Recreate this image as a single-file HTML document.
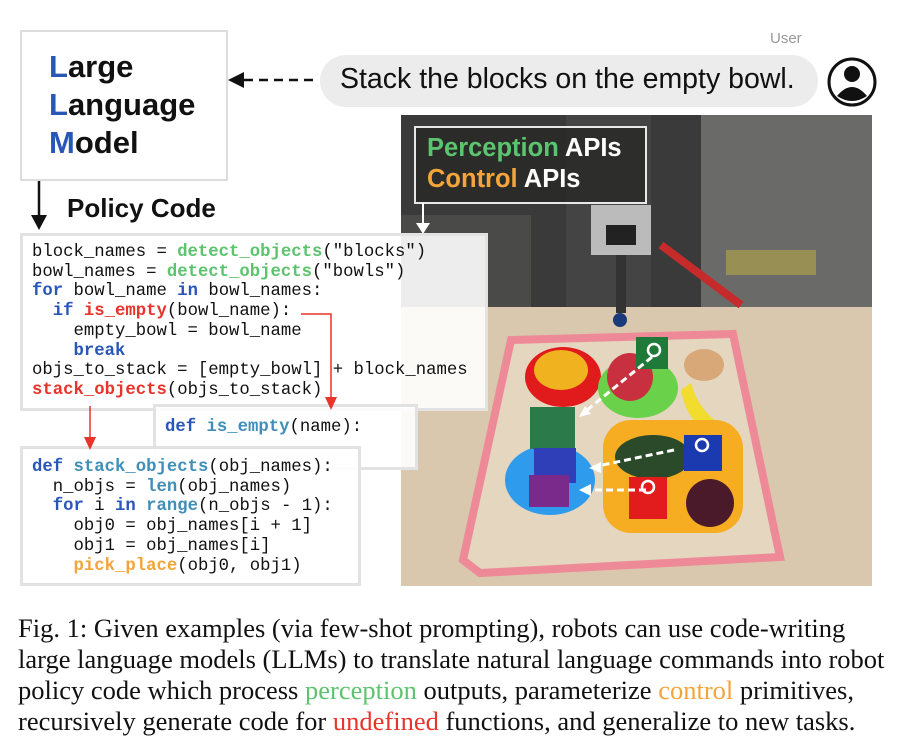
<!DOCTYPE html>
<html><head><meta charset="utf-8"><style>
body{margin:0;width:900px;height:752px;background:#fff;position:relative;overflow:hidden;font-family:"Liberation Sans",sans-serif}
.abs{position:absolute}
.code{font-family:"Liberation Mono",monospace;font-size:17.3px;line-height:19.7px;white-space:pre;color:#111}
.g{color:#5cc46e}.b{color:#2a56b8;font-weight:bold}.r{color:#e8342a;font-weight:bold}.t{color:#3f8fb8;font-weight:bold}.o{color:#f3a43a;font-weight:bold}
.box{position:absolute;background:rgba(255,255,255,0.9);border:3px solid #e2e2e2;box-sizing:border-box}
.cap{font-family:"Liberation Serif",serif;font-size:26.5px;line-height:31px;color:#111;white-space:nowrap}
</style></head><body>

<svg class="abs" style="left:401px;top:115px" width="471" height="471" viewBox="0 0 471 471">
<rect width="471" height="471" fill="#d9c8ae"/>
<rect width="471" height="192" fill="#3a3a3a"/>
<rect x="300" y="0" width="171" height="192" fill="#6a6a68"/>
<rect x="0" y="100" width="130" height="92" fill="#4a4a48"/>
<rect x="165" y="0" width="85" height="192" fill="#444"/>
<rect x="190" y="90" width="60" height="50" fill="#bbb"/>
<rect x="205" y="110" width="30" height="20" fill="#222"/>
<rect x="215" y="140" width="10" height="58" fill="#333"/>
<circle cx="219" cy="205" r="7" fill="#1a3a7a"/>
<path d="M260 130 L340 190" stroke="#c62b2b" stroke-width="8"/>
<rect x="325" y="135" width="90" height="25" fill="#b8a84a" opacity=".6"/>
<path d="M110 225 L332 219 L379 442 L79 458 L62 445 Z" fill="#e4d6bf"/>
<path d="M110 225 L332 219 L379 442 L79 458 L62 445 Z" fill="none" stroke="#ee8a97" stroke-width="8"/>
<ellipse cx="162" cy="262" rx="38" ry="30" fill="#e11b1b"/>
<ellipse cx="160" cy="255" rx="27" ry="20" fill="#f0b21f"/>
<ellipse cx="237" cy="273" rx="40" ry="30" fill="#6ad24a"/>
<ellipse cx="229" cy="262" rx="23" ry="24" fill="#c9303f"/>
<rect x="235" y="222" width="32" height="32" fill="#1f7a3a"/>
<ellipse cx="303" cy="250" rx="20" ry="16" fill="#d8a878"/>
<path d="M290 268 Q300 305 338 318 L333 325 Q288 320 280 275Z" fill="#f2dc2e"/>
<ellipse cx="149" cy="365" rx="45" ry="35" fill="#2e9bec"/>
<rect x="129" y="292" width="45" height="42" fill="#2a7a4a"/>
<rect x="133" y="333" width="42" height="35" fill="#2e3fb8"/>
<rect x="128" y="360" width="40" height="32" fill="#7a2a8a"/>
<rect x="202" y="305" width="140" height="113" rx="28" fill="#f6ad22"/>
<ellipse cx="252" cy="342" rx="38" ry="22" fill="#2a4a2a"/>
<rect x="283" y="320" width="38" height="36" fill="#1c3ab0"/>
<rect x="228" y="362" width="38" height="42" fill="#e21c1c"/>
<circle cx="309" cy="388" r="24" fill="#4a1a2a"/>
<g stroke="#fff" stroke-width="3" stroke-dasharray="7 4" fill="none">
<path d="M251 242 L180 300"/><path d="M273 335 L192 352"/><path d="M245 375 L185 375"/>
</g>
<circle cx="253" cy="235" r="6" fill="none" stroke="#fff" stroke-width="2.5"/>
<circle cx="301" cy="330" r="6" fill="none" stroke="#fff" stroke-width="2.5"/>
<circle cx="247" cy="372" r="6" fill="none" stroke="#fff" stroke-width="2.5"/>
<g fill="#fff"><path d="M178 302 l12 -3 l-6 -8z"/><path d="M188 353 l12 -6 l0 11z"/><path d="M178 375 l12 -6 l0 12z"/></g>
<rect x="14" y="12" width="231" height="76" fill="#2a2a28" opacity=".88" stroke="#fff" stroke-width="2"/>
<line x1="22" y1="88" x2="22" y2="112" stroke="#fff" stroke-width="2"/>
<path d="M15 108 L22 119 L29 108Z" fill="#fff"/>
<text x="26" y="41" font-family="Liberation Sans" font-weight="bold" font-size="25.5" fill="#5cc46e">Perception <tspan fill="#fff">APIs</tspan></text>
<text x="26" y="72" font-family="Liberation Sans" font-weight="bold" font-size="25.5" fill="#f3a43a">Control <tspan fill="#fff">APIs</tspan></text>
</svg>

<div class="abs" style="left:20px;top:30px;width:208px;height:151px;border:2px solid #ddd;box-sizing:border-box"></div>
<div class="abs" style="left:49px;top:48px;font-size:31px;font-weight:bold;line-height:38px;color:#111"><span style="color:#2a56b8">L</span>arge<br><span style="color:#2a56b8">L</span>anguage<br><span style="color:#2a56b8">M</span>odel</div>
<svg class="abs" style="left:0;top:0" width="900" height="600">
<line x1="244" y1="80" x2="315" y2="80" stroke="#111" stroke-width="2.5" stroke-dasharray="9 6"/>
<path d="M228 80 L244 72 L244 88Z" fill="#111"/>
<line x1="39" y1="181" x2="39" y2="218" stroke="#111" stroke-width="2.5"/>
<path d="M31 215 L39 230 L47 215Z" fill="#111"/>
</svg>
<div class="abs" style="left:320px;top:55px;width:498px;height:52px;border-radius:26px;background:#ececec"></div>
<div class="abs" style="left:340px;top:63px;font-size:28.5px;color:#111">Stack the blocks on the empty bowl.</div>
<div class="abs" style="left:770px;top:30px;font-size:15px;color:#999">User</div>
<svg class="abs" style="left:826px;top:56px" width="52" height="52"><circle cx="26" cy="26" r="23" fill="#fff" stroke="#111" stroke-width="3"/><circle cx="26" cy="18" r="8" fill="#111"/><path d="M11 40 Q26 22 41 40 Q26 50 11 40Z" fill="#111"/></svg>
<div class="abs" style="left:67px;top:193px;font-size:26px;font-weight:bold;color:#111">Policy Code</div>

<div class="box" style="left:20px;top:233px;width:468px;height:178px"></div>
<div class="abs code" style="left:32px;top:243px">block_names = <span class="g" style="font-weight:bold">detect_objects</span>("blocks")
bowl_names = <span class="g" style="font-weight:bold">detect_objects</span>("bowls")
<span class="b">for</span> bowl_name <span class="b">in</span> bowl_names:
  <span class="b">if</span> <span class="r">is_empty</span>(bowl_name):
    empty_bowl = bowl_name
    <span class="b">break</span>
objs_to_stack = [empty_bowl] + block_names
<span class="r">stack_objects</span>(objs_to_stack)</div>
<div class="box" style="left:153px;top:404px;width:265px;height:66px"></div>
<div class="abs code" style="left:165px;top:418px"><span class="b">def</span> <span class="t">is_empty</span>(name):</div>
<div class="box" style="left:20px;top:446px;width:341px;height:140px"></div>
<div class="abs code" style="left:32px;top:458px"><span class="b">def</span> <span class="t">stack_objects</span>(obj_names):
  n_objs = <span class="t">len</span>(obj_names)
  <span class="b">for</span> i <span class="b">in</span> <span class="t">range</span>(n_objs - 1):
    obj0 = obj_names[i + 1]
    obj1 = obj_names[i]
    <span class="o">pick_place</span>(obj0, obj1)</div>
<svg class="abs" style="left:0;top:0" width="900" height="600">
<path d="M301 314 L331 314 L331 400" fill="none" stroke="#e8342a" stroke-width="1.5"/>
<path d="M325 397 L331 410 L337 397Z" fill="#e8342a"/>
<line x1="90" y1="406" x2="90" y2="440" stroke="#e8342a" stroke-width="1.5"/>
<path d="M84 437 L90 450 L96 437Z" fill="#e8342a"/>
</svg>

<div class="abs cap" style="left:18px;top:613px">Fig. 1: Given examples (via few-shot prompting), robots can use code-writing<br>large language models (LLMs) to translate natural language commands into robot<br>policy code which process <span style="color:#5cc46e">perception</span> outputs, parameterize <span style="color:#f3a43a">control</span> primitives,<br>recursively generate code for <span style="color:#e8342a">undefined</span> functions, and generalize to new tasks.</div>
</body></html>
